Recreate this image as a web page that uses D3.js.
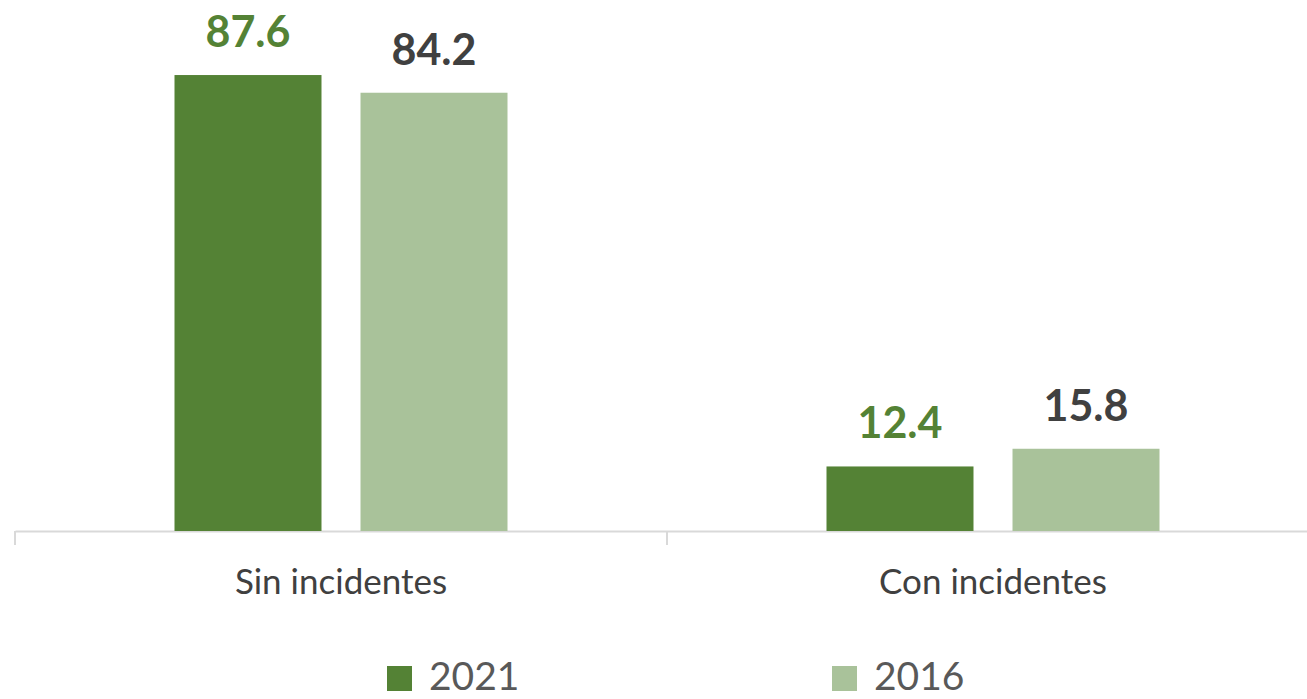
<!DOCTYPE html>
<html>
<head>
<meta charset="utf-8">
<script src="https://cdn.jsdelivr.net/npm/d3@7"></script>
<style>
  html, body { margin: 0; padding: 0; background: #fff; }
  svg { display: block; }
</style>
</head>
<body>
<svg id="chart" width="1307" height="699"></svg>
<script>
const categories = ["Sin incidentes", "Con incidentes"];
const seriesNames = ["2021", "2016"];
const values2021 = [87.6, 12.4];
const values2016 = [84.2, 15.8];
const seriesColors = ["#548235", "#a9c29a"];
const labelColors = ["#548235", "#404040"];

const valuesBySeries = [values2021, values2016];
const data = categories.map((c, i) => ({
  category: c,
  values: seriesNames.map((s, j) => ({ series: s, value: valuesBySeries[j][i], idx: j }))
}));

const svg = d3.select("#chart");
const font = "Lato, 'Open Sans', sans-serif";

const x0 = d3.scaleBand().domain(categories).range([15, 1319]).paddingInner(0).paddingOuter(0);
const groupWidth = 333;
const x1 = d3.scaleBand().domain(seriesNames).range([0, groupWidth]).paddingInner(0.2097).paddingOuter(0);
const y = d3.scaleLinear().domain([0, 100]).range([531, 10.5]);

// axis
const xAxis = d3.axisBottom(x0).tickSize(0).tickFormat("");
const axisG = svg.append("g").attr("transform", `translate(0,${y(0)})`).call(xAxis);
axisG.select(".domain").attr("stroke", "#d9d9d9").attr("stroke-width", 2);
// boundary ticks between categories
const boundaries = [x0.range()[0], ...categories.map(c => x0(c) + x0.bandwidth())];
axisG.selectAll("line.bound").data(boundaries).enter().append("line")
  .attr("class", "bound")
  .attr("x1", d => d).attr("x2", d => d)
  .attr("y1", 0).attr("y2", 14)
  .attr("stroke", "#d9d9d9").attr("stroke-width", 2);

// category labels
svg.append("g").selectAll("text").data(categories).enter().append("text")
  .attr("x", d => x0(d) + x0.bandwidth() / 2)
  .attr("y", 594)
  .attr("text-anchor", "middle")
  .attr("font-family", font)
  .attr("font-size", 35)
  .attr("fill", "#404040")
  .text(d => d);

// bars
const groups = svg.append("g").selectAll("g").data(data).enter().append("g")
  .attr("transform", d => `translate(${x0(d.category) + (x0.bandwidth() - groupWidth) / 2},0)`);

groups.selectAll("rect").data(d => d.values).enter().append("rect")
  .attr("x", d => x1(d.series))
  .attr("y", d => y(d.value))
  .attr("width", x1.bandwidth())
  .attr("height", d => y(0) - y(d.value))
  .attr("fill", d => seriesColors[d.idx]);

groups.selectAll("text").data(d => d.values).enter().append("text")
  .attr("x", d => x1(d.series) + x1.bandwidth() / 2)
  .attr("y", d => y(d.value) - 28)
  .attr("text-anchor", "middle")
  .attr("font-family", font)
  .attr("font-weight", "bold")
  .attr("font-size", 43)
  .attr("fill", d => labelColors[d.idx])
  .text(d => d.value.toFixed(1));

// legend
const legendX = [387, 832];
const legend = svg.append("g").selectAll("g").data(seriesNames).enter().append("g")
  .attr("transform", (d, i) => `translate(${legendX[i]},0)`);
legend.append("rect").attr("y", 666).attr("width", 25).attr("height", 25)
  .attr("fill", (d, i) => seriesColors[i]);
legend.append("text")
  .attr("x", 42).attr("y", 690)
  .attr("font-family", font)
  .attr("font-size", 39)
  .attr("fill", "#595959")
  .text(d => d);
</script>
</body>
</html>
